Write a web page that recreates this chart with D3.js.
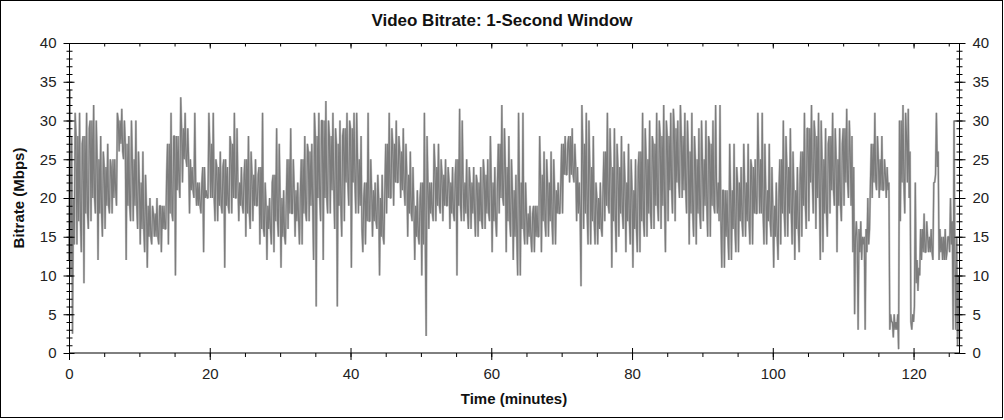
<!DOCTYPE html>
<html><head><meta charset="utf-8">
<script src="https://cdn.jsdelivr.net/npm/d3@7"></script>
<style>
body{margin:0;background:#fff;}
svg{display:block;font-family:"Liberation Sans",Arial,sans-serif;}
</style></head>
<body><svg id="chart" width="1004" height="420"></svg>
<script>
// ---- data ----
const chartTitle = "Video Bitrate: 1-Second Window";
const xTitle = "Time (minutes)";
const yTitle = "Bitrate (Mbps)";
const stepMinutes = 0.125;          // sample spacing of the series
const xMaxMinutes = 126.6;
const xTickLabels = [0, 20, 40, 60, 80, 100, 120];
const yTickLabels = [0, 5, 10, 15, 20, 25, 30, 35, 40];
// bitrate in Mbps, eight samples per minute (one row per minute)
const bitrate = [
  12,34,10,28,2.5,20,14,31,
  28,14,28,17,31,17,13,27,
  28,9,28,18,31,18,16,29,
  30,17,30,20,32,20,18,30,
  25,12,25,18,28,18,15,26,
  24,16,24,19,27,19,18,25,
  24,18,25,20,25,21,19,31,
  30,26,30,27,31.5,26,25,30,
  27,12,27,19,28,19,17,30,
  25,17,25,19,30,19,16,26,
  22,14,22,16,26,16,13,23,   // 10
  19,11,19,15,20,15,14,19,
  18,15,18,15,20,15,14,19,
  19,13,19,16,19,16,16,23,
  27,14,27,18,31,18,17,28,
  28,10,28,21,28,22,20,33,
  29,22,29,25,31,25,24,29,
  25,18,25,21,24,21,20,31,
  22,19,22,19,22,19,18,22,
  24,13,24,20,21,20,20,31,
  27,20,27,20,31,20,17,25,   // 20
  24,17,24,19,26,19,18,24,
  25,11,25,19,24,19,18,28,
  27,18,27,20,31,20,20,29,
  22,17,22,19,24,19,18,23,
  25,15,25,18,28,18,16,26,
  23,17,23,19,25,19,19,23,
  24,14,24,16,31,16,15,22,
  19,12,19,16,20,16,14,22,
  23,13,23,17,29,17,15,27,
  20,11,20,15,21,15,14,20,   // 30
  25,16,25,18,29,18,18,25,
  21,15,21,17,22,17,14,21,
  25,14,25,18,28,18,17,27,
  26,17,26,19,27,19,12,31,
  28,6,28,20,31,20,17,30,
  30,12,30,20,32.5,20,18,30,
  28,18,28,21,31,21,16,29,
  27,6,27,19,30,19,15,28,
  29,17,29,22,31,22,19,30,
  29,11,29,22,31,22,18,31,   // 40
  25,18,25,19,28,16,13,20,
  22,14,22,17,31,17,17,25,
  21,15,21,17,22,17,16,23,
  20,10,20,15,23,15,14,21,
  27,18,27,20,31,20,20,29,
  27,19,27,22,30,22,22,28,
  26,20,26,21,29,21,19,27,
  23,15,23,18,26,18,17,24,
  19,12,19,15,21,15,14,20,
  22,10,22,14,31,14,2.2,28,  // 50
  22,16,22,18,22,18,17,27,
  24,17,24,19,27,19,18,25,
  23,17,23,19,25,19,19,24,
  22,16,22,18,24,18,17,23,
  25,10,25,19,31.5,19,17,30,
  22,17,22,18,25,18,16,24,
  22,16,22,18,24,18,15,23,
  22,15,22,17,24,17,16,25,
  23,16,23,18,25,18,17,28,
  22,13,22,17,24,17,15,22,   // 60
  27,18,27,20,32,20,19,29,
  24,13,24,17,28,17,15,25,
  21,12,21,15,23,15,10,31,
  22,10,22,16,31,16,14,22,
  18,14,18,15,19,15,13,18,
  19,13,19,15,19,15,15,28,
  23,13,23,17,26,17,15,25,
  22,15,22,17,26,17,14,25,
  21,14,21,18,22,18,18,22,
  27,18,27,23,28,23,23,27,   // 70
  28,22,28,23,29,23,22,27,
  24,17,24,18,22,18,8.6,32,
  27,16,27,18,31,18,14,30,
  24,14,24,17,28,17,14,22,
  20,14,20,16,22,16,15,21,
  26,17,26,19,31,19,18,29,
  24,11,24,17,29,17,13,27,
  24,15,24,18,28,18,16,26,
  22,13,22,17,27,17,14,25,
  21,11,21,16,25,16,13,24,   // 80
  26,13,26,17,31,17,15,29,
  25,15,25,18,30,18,16,28,
  27,16,27,19,31,19,17,30,
  28,16,28,19,32,19,13,30,
  28,17,28,21,31,21,18,31.5,
  29,17,29,22,30,22,20,32,
  28,20,28,21,31,21,18,30,
  26,14,26,18,31,18,15,28,
  25,14,25,18,29,18,16,30,
  25,17,25,19,30,19,15,28,   // 90
  27,15,27,19,30,19,18,32,
  22,18,22,17,32,17,11,21,
  21,11,21,15,21,15,12,27,
  21,12,21,16,27,16,13,24,
  22,13,22,17,24,17,15,27,
  22,15,22,17,27,17,14,25,
  24,14,24,18,25,18,18,31,
  25,18,25,18,31,18,14,27,
  21,14,21,17,27,17,15,24,
  19,11,19,15,22,15,12,21,   // 100
  25,14,25,18,30,18,15,28,
  24,15,24,18,29,18,14,26,
  21,12,21,16,24,16,13,23,
  26,15,26,19,31,19,16,29,
  29,17,29,22,32,22,18,30,
  28,16,28,20,31,20,12,30,
  25,13,25,18,29,18,15,27,
  28,18,28,21,31,21,19,29,
  25,13,25,19,29,19,17,27,
  29,19,29,22,31.5,22,20,30, // 110
  26,19,28,13,24,5,15,17,
  14,3,16,13,17,12,15,14,
  15,3,16,13,20,14,16,22,
  27,20,27,22,31,22,21,28,
  25,20,25,21,28,21,21,25,
  23,20,24,21,22,3,5,4,
  4,2,5,3,4,3,5,0.5,
  30,17,30,22,32,22,18,31,
  28,22,31.5,20,26,4,3,5,
  4,6,22,9,12,8,11,10,       // 120
  16,12,16,13,18,13,13,17,
  15,13,15,13,16,13,12,22,
  22,23,31,24,26,12,16,13,
  15,12,15,12,16,12,13,15,
  15,13,20,14,17,3,30,12,
  3,15,1,10,2
];

// ---- layout ----
const svg = d3.select("#chart");
const x = d3.scaleLinear().domain([0, xMaxMinutes]).range([69, 960]);
const y = d3.scaleLinear().domain([0, 40]).range([353, 43]);
const textColor = "#222";

// outer border
svg.append("rect").attr("x",0.5).attr("y",0.5).attr("width",1002).attr("height",417)
  .attr("fill","#fff").attr("stroke","#000").attr("stroke-width",1);

// series: light halo + darker core stroke
const line = d3.line().x((d,i)=>x(i*stepMinutes)).y(d=>y(d));
svg.append("path").datum(bitrate).attr("d", line)
  .attr("fill","none").attr("stroke","#c4c4c4").attr("stroke-width",2.2)
  .attr("stroke-linejoin","bevel");
svg.append("path").datum(bitrate).attr("d", line)
  .attr("fill","none").attr("stroke","#7c7c7c").attr("stroke-width",1.2)
  .attr("stroke-linejoin","bevel");

// frame
svg.append("rect").attr("x",69.5).attr("y",43.5).attr("width",890).attr("height",309.5)
  .attr("fill","none").attr("stroke","#000").attr("stroke-width",1);

function styleAxis(g){ g.select(".domain").remove(); g.selectAll("line").attr("stroke","#000"); g.selectAll("text").attr("fill",textColor).style("font-size","15px"); }

const yMinor = d3.range(0, 41, 1);
const xMinor = d3.range(0, 127, 5);
// left axis
svg.append("g").attr("transform","translate(69.5,0)").call(d3.axisLeft(y).tickValues(yMinor).tickSize(3).tickFormat("")).call(styleAxis);
svg.append("g").attr("transform","translate(69.5,0)").call(d3.axisRight(y).tickValues(yMinor).tickSize(3).tickFormat("")).call(styleAxis);
svg.append("g").attr("transform","translate(69.5,0)").call(d3.axisLeft(y).tickValues(yTickLabels).tickSize(6).tickPadding(7)).call(styleAxis);
svg.append("g").attr("transform","translate(69.5,0)").call(d3.axisRight(y).tickValues(yTickLabels).tickSize(5).tickFormat("")).call(styleAxis);
// right axis
svg.append("g").attr("transform","translate(959.5,0)").call(d3.axisLeft(y).tickValues(yMinor).tickSize(3).tickFormat("")).call(styleAxis);
svg.append("g").attr("transform","translate(959.5,0)").call(d3.axisRight(y).tickValues(yMinor).tickSize(3).tickFormat("")).call(styleAxis);
svg.append("g").attr("transform","translate(959.5,0)").call(d3.axisLeft(y).tickValues(yTickLabels).tickSize(5).tickFormat("")).call(styleAxis);
svg.append("g").attr("transform","translate(959.5,0)").call(d3.axisRight(y).tickValues(yTickLabels).tickSize(6).tickPadding(7)).call(styleAxis);
// bottom axis
svg.append("g").attr("transform","translate(0,353)").call(d3.axisBottom(x).tickValues(xMinor).tickSize(4).tickFormat("")).call(styleAxis);
svg.append("g").attr("transform","translate(0,353)").call(d3.axisTop(x).tickValues(xTickLabels).tickSize(5).tickFormat("")).call(styleAxis);
svg.append("g").attr("transform","translate(0,353)").call(d3.axisBottom(x).tickValues(xTickLabels).tickSize(7).tickPadding(8)).call(styleAxis);
// top axis
svg.append("g").attr("transform","translate(0,43.5)").call(d3.axisBottom(x).tickValues(xMinor).tickSize(3).tickFormat("")).call(styleAxis);
svg.append("g").attr("transform","translate(0,43.5)").call(d3.axisBottom(x).tickValues(xTickLabels).tickSize(5).tickFormat("")).call(styleAxis);

// titles
svg.append("text").attr("x",502).attr("y",26).attr("text-anchor","middle")
  .style("font-size","17px").style("font-weight","bold").attr("fill","#111").text(chartTitle);
svg.append("text").attr("x",514).attr("y",404).attr("text-anchor","middle")
  .style("font-size","15px").style("font-weight","bold").attr("fill","#111").text(xTitle);
svg.append("text").attr("transform","translate(24,198) rotate(-90)").attr("text-anchor","middle")
  .style("font-size","15px").style("font-weight","bold").attr("fill","#111").text(yTitle);
</script></body></html>
